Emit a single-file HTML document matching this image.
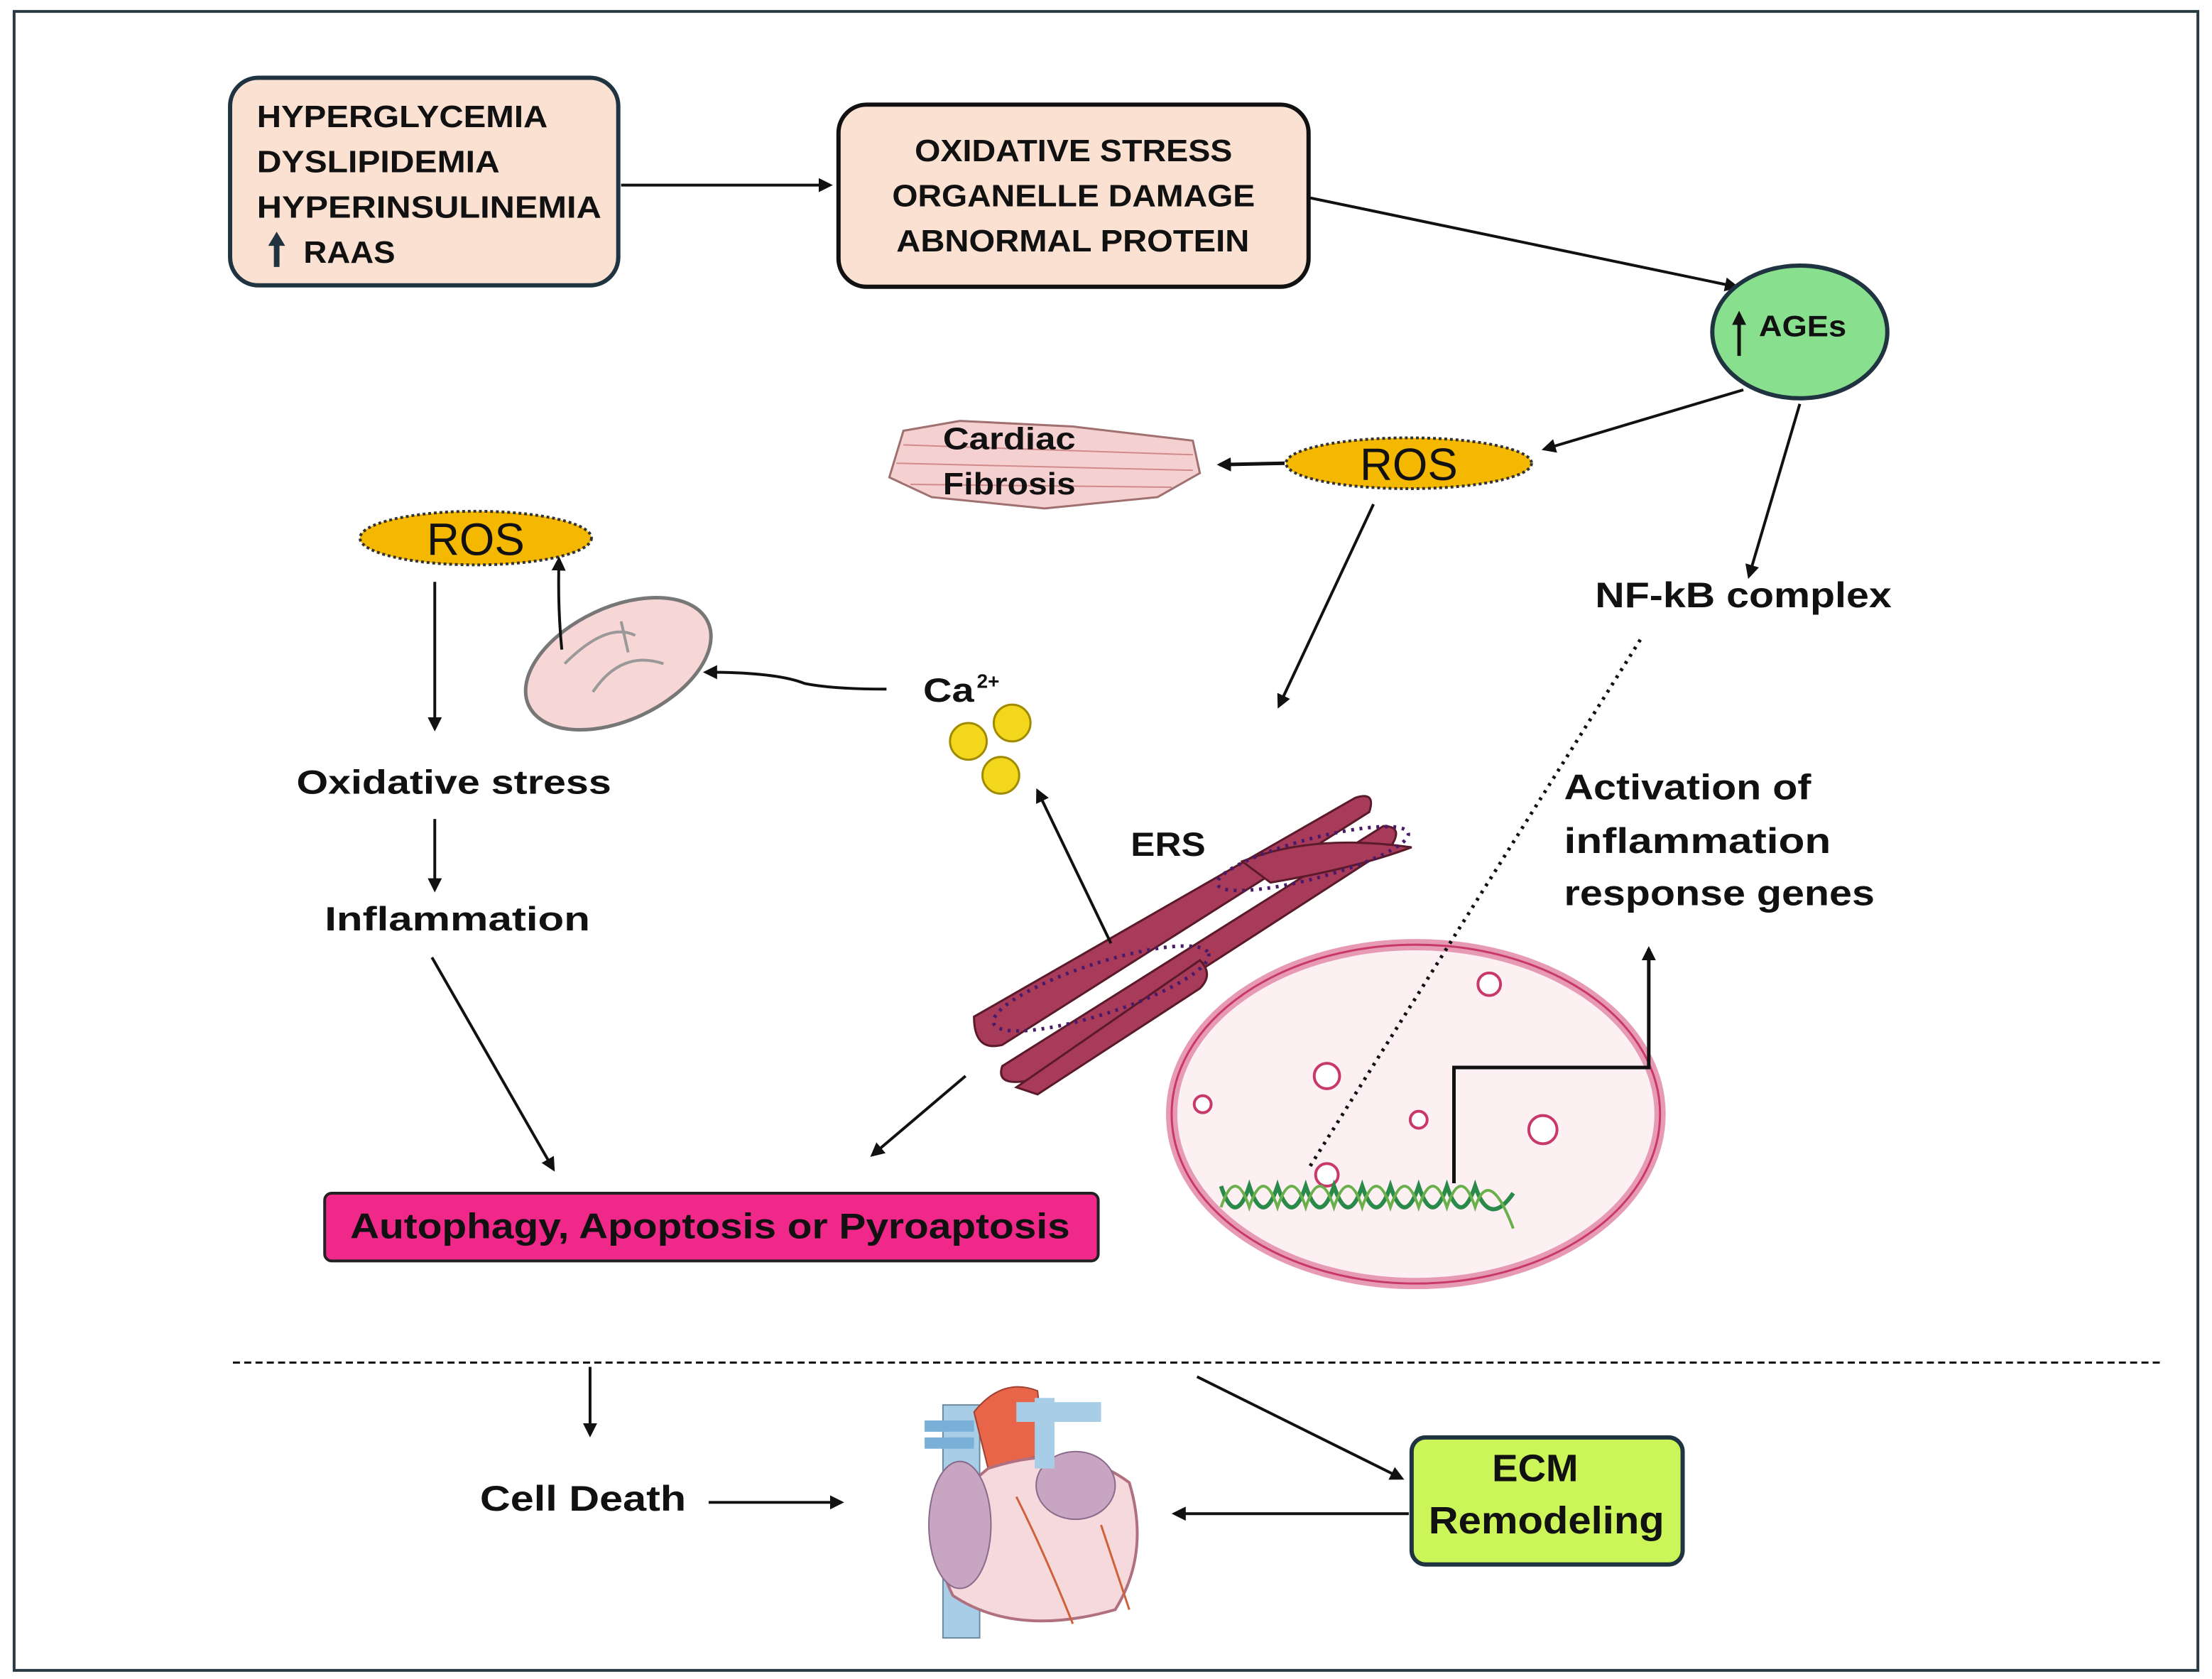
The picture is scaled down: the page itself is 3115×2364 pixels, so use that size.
<!DOCTYPE html>
<html><head><meta charset="utf-8"><style>
html,body{margin:0;padding:0;background:#fff}
svg{display:block}
text{font-family:"Liberation Sans",sans-serif;font-weight:bold;fill:#111}
</style></head><body>
<svg width="3115" height="2364" viewBox="0 0 1567 1189" xmlns="http://www.w3.org/2000/svg">
<defs>
<marker id="a" markerWidth="10" markerHeight="10" refX="8" refY="5" orient="auto" markerUnits="userSpaceOnUse">
<path d="M0,0 L10,5 L0,10 Z" fill="#111"/></marker>
</defs>
<rect x="10" y="8" width="1547" height="1175" fill="#fff" stroke="#2a3a44" stroke-width="2"/>
<!-- Box1 -->
<rect x="163" y="55" width="275" height="147" rx="20" fill="#fbe1d2" stroke="#1f3440" stroke-width="3"/>
<g font-size="22" lengthAdjust="spacingAndGlyphs">
<text x="182" y="90" textLength="206" lengthAdjust="spacingAndGlyphs">HYPERGLYCEMIA</text>
<text x="182" y="122" textLength="172" lengthAdjust="spacingAndGlyphs">DYSLIPIDEMIA</text>
<text x="182" y="154" textLength="244" lengthAdjust="spacingAndGlyphs">HYPERINSULINEMIA</text>
<text x="215" y="186" textLength="65" lengthAdjust="spacingAndGlyphs">RAAS</text>
</g>
<path d="M196,189 V172" stroke="#1f3440" stroke-width="4"/><path d="M190,174 L196,164 L202,174Z" fill="#1f3440"/>
<line x1="440" y1="131" x2="588" y2="131" stroke="#111" stroke-width="2" marker-end="url(#a)"/>
<!-- Box2 -->
<rect x="594" y="74" width="333" height="129" rx="20" fill="#fbe1d2" stroke="#111" stroke-width="3"/>
<g font-size="22">
<text x="648" y="114" textLength="225" lengthAdjust="spacingAndGlyphs">OXIDATIVE STRESS</text>
<text x="632" y="146" textLength="257" lengthAdjust="spacingAndGlyphs">ORGANELLE DAMAGE</text>
<text x="635" y="178" textLength="250" lengthAdjust="spacingAndGlyphs">ABNORMAL PROTEIN</text>
</g>
<line x1="928" y1="140" x2="1230" y2="203" stroke="#111" stroke-width="2" marker-end="url(#a)"/>
<!-- AGEs -->
<ellipse cx="1275" cy="235" rx="62" ry="47" fill="#88e08e" stroke="#1f3440" stroke-width="3"/>
<text x="1246" y="238" font-size="21" textLength="62" lengthAdjust="spacingAndGlyphs">AGEs</text>
<path d="M1232,252 V228" stroke="#111" stroke-width="2.5"/><path d="M1227,230 L1232,220 L1237,230Z" fill="#111"/>
<line x1="1235" y1="276" x2="1094" y2="318" stroke="#111" stroke-width="2" marker-end="url(#a)"/>
<line x1="1275" y1="286" x2="1239" y2="408" stroke="#111" stroke-width="2" marker-end="url(#a)"/>
<!-- ROS right -->
<ellipse cx="998" cy="328" rx="87" ry="18" fill="#f5b800" stroke="#333" stroke-width="2" stroke-dasharray="2,2"/>
<text x="998" y="340" font-size="32" text-anchor="middle" style="font-weight:normal">ROS</text>
<line x1="910" y1="328" x2="864" y2="329" stroke="#111" stroke-width="2.5" marker-end="url(#a)"/>
<!-- cardiac fibrosis -->
<path d="M640,305 L680,298 L760,302 L845,312 L850,335 L820,352 L740,360 L660,352 L630,338 Z" fill="#f5d0d0" stroke="#a07070" stroke-width="1.5"/>
<g stroke="#d08a8a" stroke-width="1"><line x1="640" y1="315" x2="845" y2="322"/><line x1="635" y1="328" x2="845" y2="333"/><line x1="645" y1="343" x2="830" y2="345"/></g>
<text x="668" y="318" font-size="22" textLength="94" lengthAdjust="spacingAndGlyphs">Cardiac</text>
<text x="668" y="350" font-size="22" textLength="94" lengthAdjust="spacingAndGlyphs">Fibrosis</text>
<text x="1130" y="430" font-size="25" textLength="210" lengthAdjust="spacingAndGlyphs">NF-kB complex</text>
<line x1="973" y1="357" x2="906" y2="500" stroke="#111" stroke-width="2" marker-end="url(#a)"/>
<!-- ROS left -->
<ellipse cx="337" cy="381" rx="82" ry="19" fill="#f5b800" stroke="#333" stroke-width="2" stroke-dasharray="2,2"/>
<text x="337" y="393" font-size="32" text-anchor="middle" style="font-weight:normal">ROS</text>
<line x1="308" y1="412" x2="308" y2="516" stroke="#111" stroke-width="2" marker-end="url(#a)"/>
<!-- mitochondria -->
<ellipse cx="438" cy="470" rx="70" ry="40" transform="rotate(-25 438 470)" fill="#f7d6d6" stroke="#777" stroke-width="2.5"/>
<path d="M400,470 Q430,440 450,450 M420,490 Q440,460 470,470 M440,440 L445,462" stroke="#999" fill="none" stroke-width="2"/>
<path d="M398,460 Q395,430 396,396" stroke="#111" stroke-width="2" fill="none" marker-end="url(#a)"/>
<path d="M628,488 Q590,488 570,484 Q550,476 500,476" stroke="#111" stroke-width="2" fill="none" marker-end="url(#a)"/>
<text x="654" y="497" font-size="24" textLength="36" lengthAdjust="spacingAndGlyphs">Ca</text><text x="692" y="487" font-size="14">2+</text>
<g fill="#f2d71c" stroke="#a08a00" stroke-width="1.5"><circle cx="686" cy="525" r="13"/><circle cx="717" cy="512" r="13"/><circle cx="709" cy="549" r="13"/></g>
<text x="210" y="562" font-size="24" textLength="223" lengthAdjust="spacingAndGlyphs">Oxidative stress</text>
<line x1="308" y1="580" x2="308" y2="630" stroke="#111" stroke-width="2" marker-end="url(#a)"/>
<text x="230" y="659" font-size="24" textLength="188" lengthAdjust="spacingAndGlyphs">Inflammation</text>
<line x1="306" y1="678" x2="392" y2="828" stroke="#111" stroke-width="2" marker-end="url(#a)"/>
<!-- ER -->
<text x="801" y="606" font-size="24" textLength="53" lengthAdjust="spacingAndGlyphs">ERS</text>
<g fill="#a83a5a" stroke="#5a1a2a" stroke-width="1.5">
<path d="M690,720 L960,565 Q975,560 970,575 L710,740 Q690,745 690,720Z"/>
<path d="M710,755 L980,585 Q995,585 985,600 L730,765 Q705,770 710,755Z"/>
<path d="M720,770 L850,680 Q860,690 850,700 L735,775Z"/>
<path d="M880,610 Q930,590 1000,600 Q960,615 900,625Z"/>
</g>
<g fill="none" stroke="#4a1a6a" stroke-width="2.5" stroke-dasharray="2,4">
<ellipse cx="780" cy="700" rx="80" ry="18" transform="rotate(-18 780 700)"/>
<ellipse cx="930" cy="608" rx="70" ry="14" transform="rotate(-15 930 608)"/>
</g>
<line x1="787" y1="668" x2="735" y2="560" stroke="#111" stroke-width="2" marker-end="url(#a)"/>
<line x1="684" y1="762" x2="618" y2="818" stroke="#111" stroke-width="2" marker-end="url(#a)"/>
<!-- pink box -->
<rect x="230" y="845" width="548" height="48" rx="5" fill="#f0288a" stroke="#222" stroke-width="2"/>
<text x="248" y="877" font-size="25" textLength="510" lengthAdjust="spacingAndGlyphs">Autophagy, Apoptosis or Pyroaptosis</text>
<!-- nucleus -->
<ellipse cx="1003" cy="789" rx="173" ry="120" fill="#fdf0f3" stroke="#e79ab5" stroke-width="8"/>
<ellipse cx="1003" cy="789" rx="173" ry="120" fill="none" stroke="#c8396a" stroke-width="1.5"/>
<g fill="#fff" stroke="#c8396a" stroke-width="2"><circle cx="940" cy="762" r="9"/><circle cx="1093" cy="800" r="10"/><circle cx="1005" cy="793" r="6"/><circle cx="940" cy="832" r="8"/><circle cx="1055" cy="697" r="8"/><circle cx="852" cy="782" r="6"/></g>
<path d="M865,840 Q875,870 885,840 Q895,870 905,840 Q915,870 925,840 Q935,870 945,840 Q955,870 965,840 Q975,870 985,840 Q995,870 1005,840 Q1015,870 1025,840 Q1035,870 1045,840 Q1055,870 1072,845" fill="none" stroke="#2a8a4a" stroke-width="3"/>
<path d="M865,855 Q875,825 885,855 Q895,825 905,855 Q915,825 925,855 Q935,825 945,855 Q955,825 965,855 Q975,825 985,855 Q995,825 1005,855 Q1015,825 1025,855 Q1035,825 1045,855 Q1055,825 1072,870" fill="none" stroke="#6ab04a" stroke-width="2"/>
<line x1="1162" y1="453" x2="928" y2="826" stroke="#111" stroke-width="2.5" stroke-dasharray="2,4"/>
<path d="M1030,838 V756 H1168 V672" stroke="#111" stroke-width="2.5" fill="none" marker-end="url(#a)"/>
<g font-size="25"><text x="1108" y="566" textLength="175" lengthAdjust="spacingAndGlyphs">Activation of</text><text x="1108" y="604" textLength="189" lengthAdjust="spacingAndGlyphs">inflammation</text><text x="1108" y="641" textLength="220" lengthAdjust="spacingAndGlyphs">response genes</text></g>
<line x1="165" y1="965" x2="1530" y2="965" stroke="#111" stroke-width="1.5" stroke-dasharray="5,3"/>
<line x1="418" y1="968" x2="418" y2="1016" stroke="#111" stroke-width="2" marker-end="url(#a)"/>
<text x="340" y="1070" font-size="25" textLength="146" lengthAdjust="spacingAndGlyphs">Cell Death</text>
<line x1="502" y1="1064" x2="596" y2="1064" stroke="#111" stroke-width="2" marker-end="url(#a)"/>
<!-- heart -->
<rect x="668" y="995" width="26" height="165" fill="#a8cde6" stroke="#6a8aa0"/>
<path d="M655,1010 H690 M655,1022 H690" stroke="#7ab0d8" stroke-width="8"/>
<path d="M690,1000 Q710,975 735,985 L740,1030 L700,1040Z" fill="#e8654a" stroke="#a04030"/>
<path d="M700,1040 Q650,1080 675,1130 Q720,1160 790,1140 Q815,1100 800,1050 Q760,1020 700,1040Z" fill="#f5d9dc" stroke="#b07080" stroke-width="2"/>
<ellipse cx="680" cy="1080" rx="22" ry="45" fill="#c8a6c2" stroke="#8a6a8a"/>
<ellipse cx="762" cy="1052" rx="28" ry="24" fill="#c8a6c2" stroke="#8a6a8a"/>
<path d="M720,1000 H780 M740,990 V1040" stroke="#a8cde6" stroke-width="14"/>
<path d="M720,1060 Q740,1100 760,1150 M780,1080 Q790,1110 800,1140" stroke="#d0603a" stroke-width="1.5" fill="none"/>
<line x1="848" y1="975" x2="993" y2="1047" stroke="#111" stroke-width="2" marker-end="url(#a)"/>
<rect x="1000" y="1018" width="192" height="90" rx="10" fill="#ccf55a" stroke="#1f3440" stroke-width="3"/>
<text x="1057" y="1049" font-size="27" textLength="61" lengthAdjust="spacingAndGlyphs">ECM</text>
<text x="1012" y="1086" font-size="27" textLength="167" lengthAdjust="spacingAndGlyphs">Remodeling</text>
<line x1="998" y1="1072" x2="832" y2="1072" stroke="#111" stroke-width="2" marker-end="url(#a)"/>
</svg>
</body></html>
